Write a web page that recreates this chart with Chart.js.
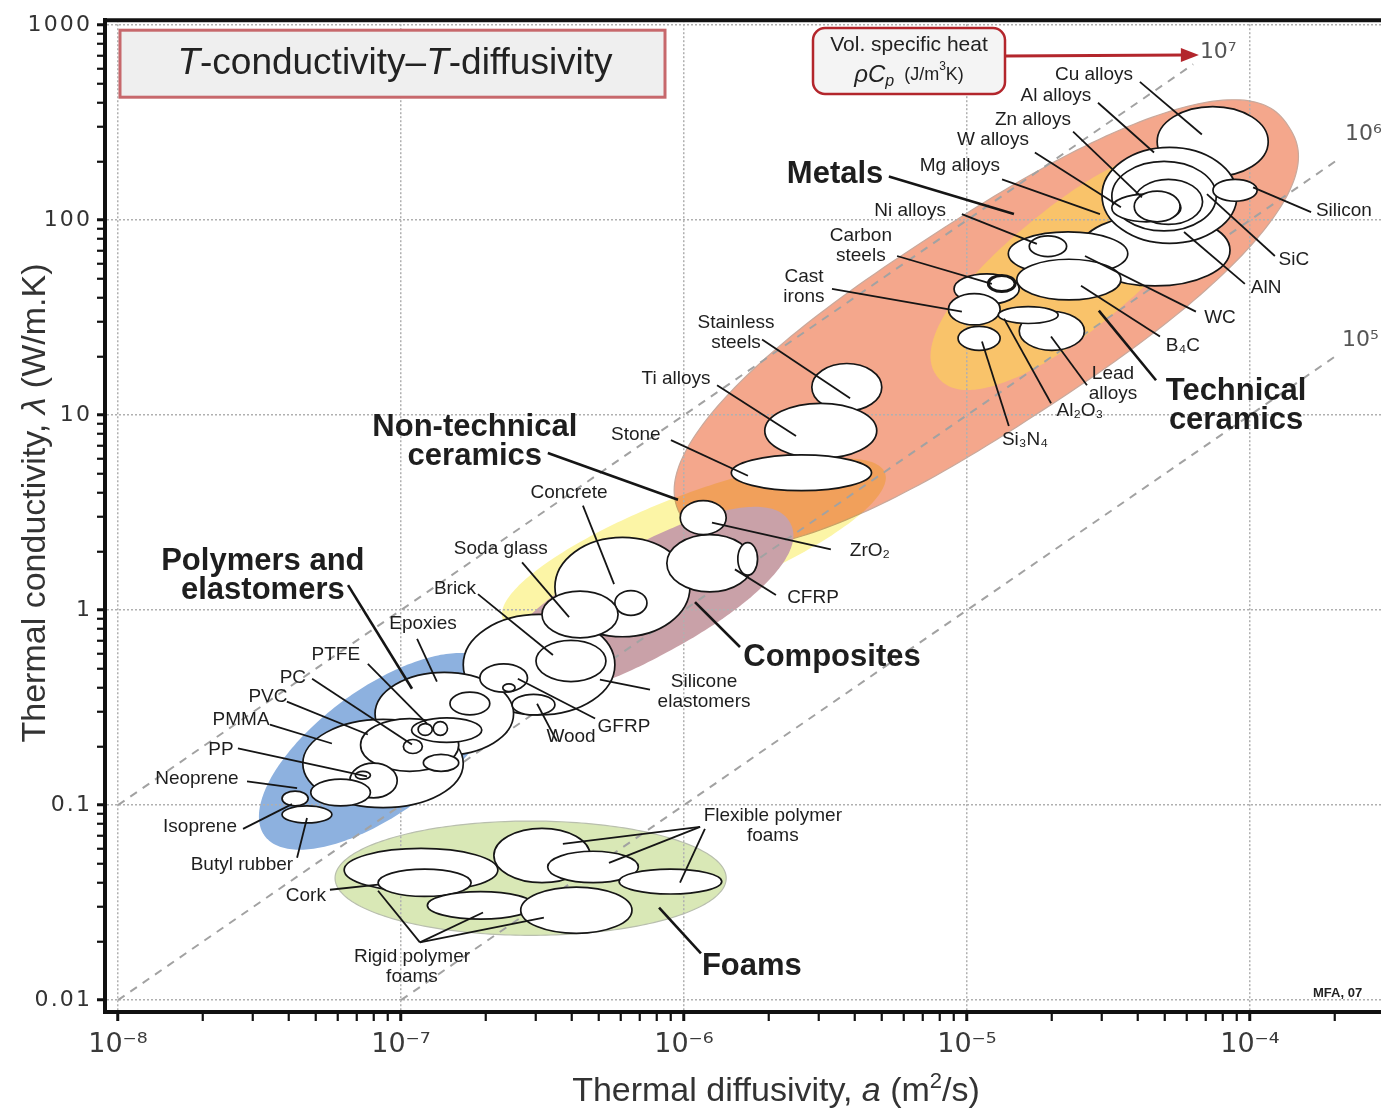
<!DOCTYPE html>
<html lang="en">
<head>
<meta charset="utf-8">
<title>T-conductivity – T-diffusivity</title>
<script src="https://cdn.jsdelivr.net/npm/chart.js@4.4.1/dist/chart.umd.min.js"></script>
<style>
  html, body { margin: 0; padding: 0; background: #fff; }
  #box { position: relative; width: 1381px; height: 1108px; }
</style>
</head>
<body>
<div id="box"><canvas id="ashby"></canvas></div>
<script>
// material bubbles, in drawing order: ranges of diffusivity a (m2/s) and conductivity (W/m.K)
const materialNames = [
  'Cork', 'Rigid polymer foam A', 'Rigid polymer foam B', 'Flexible polymer foam A',
  'Flexible polymer foam B', 'Rigid polymer foam C', 'Flexible polymer foam C',
  'Silicone elastomers', 'Epoxies', 'Elastomers', 'PVC', 'PTFE', 'PTFE B', 'PEEK', 'PA',
  'PC', 'PS', 'PP', 'PE', 'PMMA', 'Neoprene', 'Butyl rubber',
  'Wood', 'GFRP', 'GFRP B', 'Brick', 'Concrete', 'Glass ceramic', 'Soda glass',
  'CFRP', 'CFRP B', 'ZrO2', 'Stainless steels', 'Ti alloys', 'Stone',
  'Si3N4', 'Low alloy steels', 'Cast irons', 'Carbon steels', 'Lead alloys', 'Al2O3',
  'Cu alloys', 'AlN', 'Al alloys', 'Zn alloys', 'Mg alloys', 'W alloys', 'SiC', 'Silicon',
  'WC', 'B4C', 'Ni alloys'
];
const diffMin = [
  6.3e-8, 8.3e-8, 1.24e-7, 2.13e-7, 3.3e-7, 2.65e-7, 5.9e-7,
  1.66e-7, 8.1e-8, 4.5e-8, 7.2e-8, 1.09e-7, 1.15e-7, 1.30e-7, 1.49e-7,
  1.02e-7, 1.2e-7, 6.6e-8, 6.9e-8, 4.8e-8, 3.8e-8, 3.8e-8,
  2.47e-7, 1.9e-7, 2.29e-7, 3.0e-7, 3.5e-7, 5.7e-7, 3.15e-7,
  8.7e-7, 1.55e-6, 9.7e-7, 2.83e-6, 1.93e-6, 1.47e-6,
  9.3e-6, 9.0e-6, 8.6e-6, 1.19e-5, 1.53e-5, 1.29e-5,
  4.7e-5, 2.5e-5, 3.0e-5, 3.25e-5, 3.9e-5, 3.25e-5, 3.9e-5, 7.4e-5,
  1.4e-5, 1.5e-5, 1.66e-5
];
const diffMax = [
  2.2e-7, 1.77e-7, 2.95e-7, 4.66e-7, 6.9e-7, 6.55e-7, 1.36e-6,
  5.7e-7, 2.5e-7, 1.66e-7, 1.6e-7, 1.93e-7, 1.29e-7, 1.46e-7, 2.06e-7,
  1.19e-7, 1.6e-7, 9.7e-8, 7.8e-8, 7.8e-8, 4.7e-8, 5.7e-8,
  3.5e-7, 2.8e-7, 2.53e-7, 5.3e-7, 1.05e-6, 7.4e-7, 5.85e-7,
  1.75e-6, 1.82e-6, 1.41e-6, 5.0e-6, 4.8e-6, 4.6e-6,
  1.31e-5, 1.53e-5, 1.31e-5, 1.48e-5, 2.6e-5, 2.1e-5,
  1.16e-4, 8.5e-5, 9.0e-5, 7.6e-5, 6.8e-5, 5.7e-5, 5.66e-5, 1.06e-4,
  3.7e-5, 3.5e-5, 2.25e-5
];
const condMin = [
  0.036, 0.034, 0.026, 0.040, 0.040, 0.022, 0.035,
  0.29, 0.18, 0.097, 0.149, 0.21, 0.228, 0.228, 0.29,
  0.184, 0.149, 0.109, 0.136, 0.099, 0.099, 0.081,
  0.29, 0.38, 0.382, 0.43, 0.73, 0.94, 0.72,
  1.24, 1.51, 2.44, 10.5, 6.0, 4.1,
  21.5, 37, 29, 43, 21.5, 29.5,
  167, 46, 76, 88, 95, 98, 98, 125,
  52, 39, 65
];
const condMax = [
  0.060, 0.047, 0.036, 0.076, 0.058, 0.038, 0.047,
  0.95, 0.48, 0.275, 0.278, 0.28, 0.262, 0.268, 0.38,
  0.217, 0.182, 0.164, 0.149, 0.136, 0.118, 0.099,
  0.37, 0.53, 0.419, 0.70, 2.36, 1.26, 1.25,
  2.44, 2.22, 3.64, 18.4, 11.5, 6.25,
  28.5, 53, 42, 52, 34, 36,
  382, 107, 236, 200, 162, 136, 141, 162,
  87, 63, 83
];

// family envelopes: two end points (a, conductivity) and half width in decades
const envelopeNames = ['Foams', 'Polymers and elastomers', 'Metals', 'Technical ceramics', 'Non-technical ceramics', 'Composites'];
const envDiffA = [5.85e-8, 3.3e-8, 1.0e-6, 7.9e-6, 2.29e-7, 2.24e-7];
const envCondA = [0.0422, 0.0695, 2.88, 15.6, 0.90, 0.43];
const envDiffB = [1.41e-6, 2.15e-7, 1.37e-4, 6.8e-5, 5.13e-6, 2.37e-6];
const envCondB = [0.0422, 0.512, 302, 200, 5.06, 2.81];
const envHalfWidth = [0.293, 0.32, 0.53, 0.316, 0.265, 0.28];

// guide lines of constant volumetric specific heat (J/m3K)
const heatCapacity = [1e5, 1e6, 1e7];
const guideDiff = [[1e-7, 2.05e-4], [1e-8, 2.05e-4], [1e-8, 6.3e-5]];
const guideCond = [[0.01, 20.5], [0.01, 205], [0.1, 630]];
const guideLabels = ['10\u2075', '10\u2076', '10\u2077'];
const guideLabelAt = [[-3.675, 1.383], [-3.664, 2.439], [-4.177, 2.862]]; // log10 a, log10 conductivity

const xTickLabels = ['10\u207b\u2078', '10\u207b\u2077', '10\u207b\u2076', '10\u207b\u2075', '10\u207b\u2074'];
const yTickLabels = ['0.01', '0.1', '1', '10', '100', '1000'];

// labels with leader lines, positions as [log10 a, log10 conductivity]
const notes = [
  { t: ['Cu alloys'], at: [-4.551, 2.745], l: [[-4.389, 2.709, -4.170, 2.439]] },
  { t: ['Al alloys'], at: [-4.686, 2.638], l: [[-4.537, 2.602, -4.339, 2.347]] },
  { t: ['Zn alloys'], at: [-4.767, 2.515], l: [[-4.625, 2.454, -4.382, 2.117]] },
  { t: ['W alloys'], at: [-4.908, 2.413], l: [[-4.760, 2.347, -4.456, 2.066]] },
  { t: ['Mg alloys'], at: [-5.025, 2.281], l: [[-4.876, 2.209, -4.530, 2.031]] },
  { t: ['Ni alloys'], at: [-5.201, 2.046], l: [[-5.018, 2.031, -4.753, 1.878]] },
  { t: ['Carbon', 'steels'], at: [-5.375, 1.867], l: [[-5.247, 1.816, -4.912, 1.673]] },
  { t: ['Cast', 'irons'], at: [-5.576, 1.658], l: [[-5.477, 1.648, -5.018, 1.531]] },
  { t: ['Stainless', 'steels'], at: [-5.816, 1.423], l: [[-5.724, 1.388, -5.413, 1.087]] },
  { t: ['Ti alloys'], at: [-6.028, 1.189], l: [[-5.883, 1.153, -5.604, 0.893]] },
  { t: ['Stone'], at: [-6.170, 0.898], l: [[-6.046, 0.872, -5.774, 0.689]] },
  { t: ['Concrete'], at: [-6.406, 0.602], l: [[-6.357, 0.536, -6.247, 0.133]] },
  { t: ['Soda glass'], at: [-6.647, 0.316], l: [[-6.572, 0.245, -6.406, -0.036]] },
  { t: ['Brick'], at: [-6.809, 0.112], l: [[-6.728, 0.082, -6.463, -0.230]] },
  { t: ['Epoxies'], at: [-6.922, -0.071], l: [[-6.943, -0.148, -6.873, -0.367]] },
  { t: ['PTFE'], at: [-7.230, -0.230], l: [[-7.117, -0.276, -6.908, -0.582]] },
  { t: ['PC'], at: [-7.382, -0.347], l: [[-7.314, -0.352, -6.961, -0.689]] },
  { t: ['PVC'], at: [-7.470, -0.444], l: [[-7.403, -0.469, -7.117, -0.638]] },
  { t: ['PMMA'], at: [-7.565, -0.561], l: [[-7.463, -0.587, -7.244, -0.684]] },
  { t: ['PP'], at: [-7.636, -0.714], l: [[-7.576, -0.709, -7.120, -0.852]] },
  { t: ['Neoprene'], at: [-7.721, -0.867], l: [[-7.544, -0.878, -7.367, -0.913]] },
  { t: ['Isoprene'], at: [-7.710, -1.112], l: [[-7.558, -1.122, -7.385, -0.995]] },
  { t: ['Butyl rubber'], at: [-7.562, -1.306], l: [[-7.367, -1.270, -7.332, -1.066]] },
  { t: ['Cork'], at: [-7.336, -1.464], l: [[-7.251, -1.434, -7.081, -1.408]] },
  { t: ['Rigid polymer', 'foams'], at: [-6.961, -1.827],
    l: [[-6.933, -1.704, -7.081, -1.439], [-6.933, -1.704, -6.710, -1.551], [-6.933, -1.704, -6.495, -1.577]] },
  { t: ['Flexible polymer', 'foams'], at: [-5.686, -1.107],
    l: [[-5.943, -1.112, -6.428, -1.199], [-5.943, -1.112, -6.265, -1.296], [-5.926, -1.122, -6.014, -1.398]] },
  { t: ['Wood'], at: [-6.399, -0.648], l: [[-6.449, -0.673, -6.519, -0.480]] },
  { t: ['GFRP'], at: [-6.212, -0.597], l: [[-6.314, -0.556, -6.587, -0.352]] },
  { t: ['Silicone', 'elastomers'], at: [-5.929, -0.418], l: [[-6.120, -0.408, -6.297, -0.357]] },
  { t: ['CFRP'], at: [-5.544, 0.061], l: [[-5.675, 0.077, -5.820, 0.209]] },
  { t: ['ZrO\u2082'], at: [-5.343, 0.306], l: [[-5.481, 0.311, -5.901, 0.449]] },
  { t: ['Lead', 'alloys'], at: [-4.484, 1.163], l: [[-4.576, 1.153, -4.703, 1.403]] },
  { t: ['Al\u2082O\u2083'], at: [-4.601, 1.020], l: [[-4.703, 1.061, -4.869, 1.495]] },
  { t: ['Si\u2083N\u2084'], at: [-4.795, 0.872], l: [[-4.852, 0.944, -4.947, 1.378]] },
  { t: ['B\u2084C'], at: [-4.237, 1.357], l: [[-4.318, 1.403, -4.597, 1.663]] },
  { t: ['WC'], at: [-4.106, 1.500], l: [[-4.191, 1.531, -4.583, 1.816]] },
  { t: ['AlN'], at: [-3.943, 1.653], l: [[-4.018, 1.673, -4.233, 1.939]] },
  { t: ['SiC'], at: [-3.845, 1.796], l: [[-3.912, 1.816, -4.152, 2.133]] },
  { t: ['Silicon'], at: [-3.668, 2.046], l: [[-3.784, 2.041, -3.989, 2.168]] },
  { t: ['Metals'], at: [-5.466, 2.235], l: [[-5.276, 2.224, -4.834, 2.031]], big: true },
  { t: ['Technical', 'ceramics'], at: [-4.049, 1.046], l: [[-4.332, 1.179, -4.534, 1.536]], big: true },
  { t: ['Non-technical', 'ceramics'], at: [-6.739, 0.862], l: [[-6.481, 0.806, -6.021, 0.566]], big: true },
  { t: ['Polymers and', 'elastomers'], at: [-7.488, 0.173], l: [[-7.187, 0.128, -6.961, -0.403]], big: true },
  { t: ['Composites'], at: [-5.477, -0.245], l: [[-5.802, -0.189, -5.961, 0.041]], big: true },
  { t: ['Foams'], at: [-5.760, -1.827], l: [[-5.940, -1.760, -6.088, -1.526]], big: true }
];

const SANS = "'Liberation Sans', Arial, Helvetica, sans-serif";
const envStyle = [
  { fill: '#d9e8b6', edge: '#b9bfae', shape: 2 },
  { fill: '#8db1df', shape: 2 },
  { fill: '#f4a78c', edge: '#c9a99c', shape: 2.4 },
  { fill: '#f9c36a', shape: 2.2 },
  { fill: '#fcf5a6', blend: 'multiply', shape: 2 },
  { fill: '#c9a1a8', shape: 2.2 }
];

function toPx(chart, a, k) {
  return { x: chart.scales.x.getPixelForValue(a), y: chart.scales.y.getPixelForValue(k) };
}
function logPx(chart, la, lk) {
  return toPx(chart, Math.pow(10, la), Math.pow(10, lk));
}

function envelopePath(ctx, p1, p2, half, expo) {
  const cx = (p1.x + p2.x) / 2, cy = (p1.y + p2.y) / 2;
  const dx = p2.x - p1.x, dy = p2.y - p1.y, len = Math.hypot(dx, dy);
  const ux = dx / len, uy = dy / len;
  const A = len / 2, e = 2 / expo;
  ctx.beginPath();
  for (let i = 0; i <= 240; i++) {
    const t = i / 240 * Math.PI * 2;
    const c = Math.cos(t), s = Math.sin(t);
    const u = Math.sign(c) * Math.pow(Math.abs(c), e) * A;
    const v = Math.sign(s) * Math.pow(Math.abs(s), e) * half;
    const x = cx + ux * u - uy * v, y = cy + uy * u + ux * v;
    if (i) ctx.lineTo(x, y); else ctx.moveTo(x, y);
  }
  ctx.closePath();
}

function richText(ctx, parts, x, y, align) {
  let w = 0;
  parts.forEach(p => { ctx.font = p[1]; w += ctx.measureText(p[0]).width; });
  let cx = align === 'center' ? x - w / 2 : x;
  ctx.textAlign = 'left';
  parts.forEach(p => {
    ctx.font = p[1];
    ctx.fillText(p[0], cx, y + (p[2] || 0));
    cx += ctx.measureText(p[0]).width;
  });
}

const envelopes = {
  id: 'envelopes',
  beforeDraw(chart) {
    const ctx = chart.ctx, ys = chart.scales.y;
    const decade = ys.getPixelForValue(1) - ys.getPixelForValue(10);
    ctx.save();
    envelopeNames.forEach((name, i) => {
      const st = envStyle[i];
      envelopePath(ctx, toPx(chart, envDiffA[i], envCondA[i]), toPx(chart, envDiffB[i], envCondB[i]),
        envHalfWidth[i] * decade, st.shape);
      ctx.globalCompositeOperation = st.blend || 'source-over';
      ctx.fillStyle = st.fill;
      ctx.fill();
      ctx.globalCompositeOperation = 'source-over';
      if (st.edge) {
        ctx.strokeStyle = st.edge;
        ctx.lineWidth = 1.2;
        ctx.stroke();
      }
    });
    ctx.restore();
  }
};

const bubbles = {
  id: 'bubbles',
  afterDatasetsDraw(chart) {
    const ctx = chart.ctx;
    ctx.save();
    materialNames.forEach((name, i) => {
      const p1 = toPx(chart, diffMin[i], condMin[i]);
      const p2 = toPx(chart, diffMax[i], condMax[i]);
      ctx.beginPath();
      ctx.ellipse((p1.x + p2.x) / 2, (p1.y + p2.y) / 2, Math.abs(p2.x - p1.x) / 2, Math.abs(p2.y - p1.y) / 2, 0, 0, Math.PI * 2);
      ctx.fillStyle = '#fff';
      ctx.fill();
      ctx.strokeStyle = '#161616';
      ctx.lineWidth = name === 'Carbon steels' ? 3 : 1.7;
      ctx.stroke();
    });

    // leader lines and names
    ctx.strokeStyle = '#151515';
    notes.forEach(n => {
      n.l.forEach(s => {
        const a = logPx(chart, s[0], s[1]), b = logPx(chart, s[2], s[3]);
        ctx.lineWidth = n.big ? 2.6 : 1.8;
        ctx.beginPath(); ctx.moveTo(a.x, a.y); ctx.lineTo(b.x, b.y); ctx.stroke();
      });
    });
    ctx.fillStyle = '#1e1e1e';
    ctx.textAlign = 'center';
    ctx.textBaseline = 'middle';
    notes.forEach(n => {
      const p = logPx(chart, n.at[0], n.at[1]);
      const lh = n.big ? 29 : 20;
      ctx.font = n.big ? 'bold 31px ' + SANS : '19px ' + SANS;
      n.t.forEach((line, j) => ctx.fillText(line, p.x, p.y + (j - (n.t.length - 1) / 2) * lh));
    });
    ctx.restore();
  }
};

const decorations = {
  id: 'decorations',
  afterDraw(chart) {
    const ctx = chart.ctx, ca = chart.chartArea;
    ctx.save();
    // top frame line
    ctx.strokeStyle = '#111';
    ctx.lineWidth = 4;
    ctx.beginPath(); ctx.moveTo(ca.left - 2, ca.top); ctx.lineTo(ca.right, ca.top); ctx.stroke();

    // title box
    ctx.fillStyle = '#efefef';
    ctx.fillRect(ca.left + 15, ca.top + 10, 545, 67);
    ctx.strokeStyle = '#c7686c';
    ctx.lineWidth = 3;
    ctx.strokeRect(ca.left + 15, ca.top + 10, 545, 67);
    ctx.fillStyle = '#222';
    ctx.textBaseline = 'middle';
    richText(ctx, [['T', 'italic 37px ' + SANS], ['-conductivity\u2013', '37px ' + SANS],
      ['T', 'italic 37px ' + SANS], ['-diffusivity', '37px ' + SANS]], ca.left + 290, ca.top + 44, 'center');

    // volumetric specific heat box and arrow
    const bx = 813, by = 28, bw = 192, bh = 66;
    ctx.beginPath();
    ctx.roundRect(bx, by, bw, bh, 12);
    ctx.fillStyle = '#f4f4f4';
    ctx.fill();
    ctx.strokeStyle = '#b3262c';
    ctx.lineWidth = 2.5;
    ctx.stroke();
    ctx.fillStyle = '#222';
    richText(ctx, [['Vol. specific heat', '21px ' + SANS]], bx + bw / 2, by + 17, 'center');
    richText(ctx, [['\u03c1C', 'italic 24px ' + SANS], ['p', 'italic 16px ' + SANS, 7],
      ['  (J/m', '18px ' + SANS], ['3', '12px ' + SANS, -8], ['K)', '18px ' + SANS]], bx + bw / 2, by + 47, 'center');

    const tip = logPx(chart, guideLabelAt[2][0], guideLabelAt[2][1]);
    ctx.strokeStyle = '#b3262c';
    ctx.lineWidth = 3;
    ctx.beginPath(); ctx.moveTo(bx + bw, by + 28); ctx.lineTo(tip.x - 16, tip.y + 3); ctx.stroke();
    ctx.fillStyle = '#b3262c';
    ctx.beginPath();
    ctx.moveTo(tip.x - 1, tip.y + 3); ctx.lineTo(tip.x - 19, tip.y - 4); ctx.lineTo(tip.x - 19, tip.y + 10);
    ctx.closePath(); ctx.fill();

    // guide line labels
    ctx.fillStyle = '#555';
    ctx.font = "22px 'DejaVu Sans', " + SANS;
    ctx.textAlign = 'left';
    guideLabels.forEach((txt, i) => {
      const p = logPx(chart, guideLabelAt[i][0], guideLabelAt[i][1]);
      ctx.fillText(txt, p.x, p.y);
    });

    // axis titles
    ctx.fillStyle = '#333';
    ctx.textBaseline = 'alphabetic';
    richText(ctx, [['Thermal diffusivity, ', '34px ' + SANS], ['a', 'italic 34px ' + SANS],
      [' (m', '34px ' + SANS], ['2', '22px ' + SANS, -13], ['/s)', '34px ' + SANS]], 776, 1101, 'center');
    ctx.translate(45, 503);
    ctx.rotate(-Math.PI / 2);
    richText(ctx, [['Thermal conductivity, ', '34px ' + SANS], ['\u03bb', 'italic 34px ' + SANS],
      [' (W/m.K)', '34px ' + SANS]], 0, 0, 'center');
    ctx.setTransform(1, 0, 0, 1, 0, 0);

    ctx.fillStyle = '#222';
    ctx.font = 'bold 13px ' + SANS;
    ctx.textBaseline = 'middle';
    ctx.fillText('MFA, 07', 1313, 993);
    ctx.restore();
  }
};

function logTicks(lo, hi) {
  const out = [];
  for (let e = -9; e <= 3; e++) {
    for (let m = 1; m <= 9; m++) {
      const v = m * Number('1e' + e);
      if (v >= lo && v <= hi) out.push({ value: v, major: m === 1 });
    }
  }
  return out;
}
const isDecade = v => Math.abs(Math.log10(v) - Math.round(Math.log10(v))) < 1e-9;

const chart = new Chart(document.getElementById('ashby'), {
  type: 'scatter',
  data: {
    datasets: heatCapacity.map((c, i) => ({
      label: 'rho Cp = ' + c,
      data: [{ x: guideDiff[i][0], y: guideCond[i][0] }, { x: guideDiff[i][1], y: guideCond[i][1] }],
      showLine: true,
      borderColor: '#a2a2a2',
      borderWidth: 2,
      borderDash: [8, 7],
      pointRadius: 0,
      fill: false
    }))
  },
  options: {
    responsive: true,
    maintainAspectRatio: false,
    animation: false,
    layout: { padding: { top: 15, right: 0, left: 0, bottom: 0 } },
    plugins: { legend: { display: false }, tooltip: { enabled: false } },
    scales: {
      x: {
        type: 'logarithmic',
        bounds: 'data',
        min: 9.0e-9,
        max: 2.904e-4,
        afterFit(s) { s.height = 96; },
        afterBuildTicks(s) { s.ticks = logTicks(9.5e-9, 2.9e-4); },
        ticks: {
          autoSkip: false, maxRotation: 0, minRotation: 0, padding: 8,
          color: '#3a3a3a',
          font: { family: "'DejaVu Sans', " + SANS, size: 27 },
          callback: v => isDecade(v) ? xTickLabels[Math.round(Math.log10(v)) + 8] : ''
        },
        grid: {
          color: c => c.tick && isDecade(c.tick.value) ? '#b0b0b0' : 'rgba(0,0,0,0)',
          lineWidth: 1.5,
          tickLength: 9,
          tickColor: '#111',
          tickWidth: c => c.tick && isDecade(c.tick.value) ? 3 : 2.2,
          tickBorderDash: []
        },
        border: { display: true, color: '#111', width: 4, dash: [2, 2] }
      },
      y: {
        type: 'logarithmic',
        bounds: 'data',
        min: 0.00869,
        max: 1060,
        afterFit(s) { s.width = 105; },
        afterBuildTicks(s) { s.ticks = logTicks(0.0095, 1060); },
        ticks: {
          autoSkip: false, padding: 7,
          color: '#333',
          font: { family: "'DejaVu Sans', " + SANS, size: 22 },
          callback: v => isDecade(v) ? yTickLabels[Math.round(Math.log10(v)) + 2].split('').join('\u200a') : ''
        },
        grid: {
          color: c => c.tick && isDecade(c.tick.value) ? '#b0b0b0' : 'rgba(0,0,0,0)',
          lineWidth: 1.5,
          tickLength: 8,
          tickColor: '#111',
          tickWidth: c => c.tick && isDecade(c.tick.value) ? 3 : 2.2,
          tickBorderDash: []
        },
        border: { display: true, color: '#111', width: 4, dash: [2, 2] }
      }
    }
  },
  plugins: [envelopes, bubbles, decorations]
});
</script>
</body>
</html>
